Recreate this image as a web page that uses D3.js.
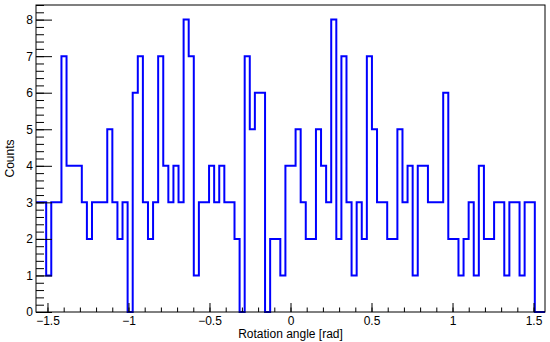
<!DOCTYPE html>
<html>
<head>
<meta charset="utf-8">
<script src="https://cdn.jsdelivr.net/npm/d3@7"></script>
<style>
  body { margin: 0; background: #fff; }
  svg { display: block; font-family: "Liberation Sans", Arial, sans-serif; }
</style>
</head>
<body>
<svg width="550" height="342"></svg>
<script>
// 100 bins from -pi/2 to pi/2
const counts = [3, 3, 1, 3, 3, 7, 4, 4, 4, 3,
                2, 3, 3, 3, 5, 3, 2, 3, 0, 6,
                7, 3, 2, 3, 7, 4, 3, 4, 3, 8,
                7, 1, 3, 3, 4, 3, 4, 3, 3, 2,
                0, 7, 5, 6, 6, 0, 2, 2, 1, 4,
                4, 5, 3, 2, 2, 5, 4, 3, 8, 2,
                7, 3, 1, 3, 2, 7, 5, 3, 3, 2,
                2, 5, 3, 4, 1, 4, 4, 3, 3, 3,
                6, 2, 2, 1, 2, 3, 1, 4, 2, 2,
                3, 3, 1, 3, 3, 1, 3, 3, 0, 0]
const xMin = -Math.PI / 2, xMax = Math.PI / 2
const xTicks = [-1.5, -1, -0.5, 0, 0.5, 1, 1.5]
const xTickLabels = ["\u22121.5", "\u22121", "\u22120.5", "0", "0.5", "1", "1.5"]
const yTicks = [0, 1, 2, 3, 4, 5, 6, 7, 8]
const xTitle = "Rotation angle [rad]"
const yTitle = "Counts"

var svg = d3.select("svg")
// plot frame (note: "top" is taken by window.top)
var fLeft = 36, fRight = 545, fTop = 5, fBottom = 312

var x = d3.scaleLinear().domain([xMin, xMax]).range([fLeft, fRight])
var y = d3.scaleLinear().domain([0, 8.4]).range([fBottom, fTop])

var binW = (xMax - xMin) / counts.length
var pts = []
counts.forEach((c, i) => {
  pts.push([xMin + i * binW, c])
  pts.push([xMin + (i + 1) * binW, c])
})

var line = d3.line().x(d => x(d[0])).y(d => y(d[1]))

svg.append("path")
  .datum(pts)
  .attr("d", line)
  .attr("fill", "none")
  .attr("stroke", "#0000ff")
  .attr("stroke-width", 2)

// minor ticks
var xMinor = d3.range(-15, 16).map(d => d / 10)
svg.append("g")
  .attr("transform", `translate(0,${fBottom})`)
  .call(d3.axisBottom(x).tickValues(xMinor).tickSizeInner(-4.5).tickSizeOuter(0).tickFormat(""))
var yMinor = d3.range(0, 43).map(d => d / 5)
svg.append("g")
  .attr("transform", `translate(${fLeft},0)`)
  .call(d3.axisLeft(y).tickValues(yMinor).tickSizeInner(-8).tickSizeOuter(0).tickFormat(""))

// major ticks with labels
svg.append("g")
  .attr("class", "xaxis")
  .attr("transform", `translate(0,${fBottom})`)
  .call(d3.axisBottom(x).tickValues(xTicks).tickSizeInner(-9).tickSizeOuter(0).tickPadding(4)
    .tickFormat((d, i) => xTickLabels[i]))
svg.append("g")
  .attr("class", "yaxis")
  .attr("transform", `translate(${fLeft},0)`)
  .call(d3.axisLeft(y).tickValues(yTicks).tickSizeInner(-16).tickSizeOuter(0).tickPadding(3))

svg.selectAll(".domain").remove()
svg.selectAll(".tick line").attr("stroke", "#000")
svg.selectAll(".tick text").attr("font-size", 12).attr("fill", "#000")
  .attr("font-family", "'Liberation Sans', Arial, sans-serif")

// frame
svg.append("rect")
  .attr("x", fLeft).attr("y", fTop)
  .attr("width", fRight - fLeft).attr("height", fBottom - fTop)
  .attr("fill", "none").attr("stroke", "#000").attr("stroke-width", 1)

svg.append("text")
  .attr("x", (fLeft + fRight) / 2).attr("y", 337.5)
  .attr("text-anchor", "middle")
  .attr("font-size", 12)
  .text(xTitle)

svg.append("text")
  .attr("transform", `translate(13.5,${(fTop + fBottom) / 2}) rotate(-90)`)
  .attr("text-anchor", "middle")
  .attr("font-size", 12)
  .text(yTitle)
</script>
</body>
</html>
